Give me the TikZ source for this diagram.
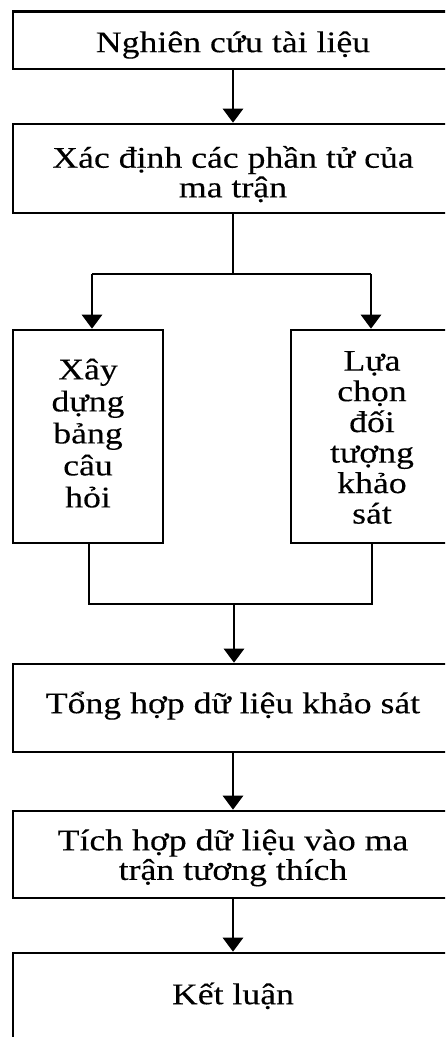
\documentclass[tikz,border=0pt]{standalone}
\usepackage{fontspec}
\setmainfont{Liberation Serif}
\usetikzlibrary{arrows.meta}
% text is set slightly wide and a little heavy, as in the original export
\newcommand\wide[2][31]{\scalebox{1.19}[1]{\fontsize{30}{#1}\selectfont\addfontfeature{FakeBold=0.2}\begin{tabular}{@{}c@{}}#2\end{tabular}}}
\begin{document}
\begin{tikzpicture}[x=1pt,y=-1pt,
  box/.style={draw=black,line width=2.6pt,inner sep=0pt},
  txt/.style={inner sep=0pt,align=center},
  flow/.style={line width=2.8pt,-{Triangle[width=20pt,length=14pt]}},
  link/.style={line width=2pt}]
\useasboundingbox (0,0) rectangle (445,1037);
\clip (0,0) rectangle (445,1037);

% frames of the steps
\node[box,minimum width=440pt,minimum height=57.5pt] (n1) at (233,40.25) {};
\node[box,minimum width=440pt,minimum height=89pt] (n2) at (233,168.5) {};
\node[box,minimum width=150pt,minimum height=213pt] (left) at (88,436.5) {};
\node[box,minimum width=162pt,minimum height=213pt] (right) at (372,436.5) {};
\node[box,minimum width=440pt,minimum height=88pt] (n5) at (233,708) {};
\node[box,minimum width=440pt,minimum height=87pt] (n6) at (233,854.5) {};
\node[box,minimum width=440pt,minimum height=94pt] (n7) at (233,1000) {};

% step texts
\node[txt] (t1) at (233,46) {\wide{Nghiên cứu tài liệu}};
\node[txt] (t2) at (233,176) {\wide[29]{Xác định các phần tử của\\ma trận}};
\node[txt] (tl) at (88,437) {\wide[32]{Xây\\dựng\\bảng\\câu\\hỏi}};
\node[txt] (tr) at (372,441) {\wide[30.5]{Lựa\\chọn\\đối\\tượng\\khảo\\sát}};
\node[txt] (t5) at (233,707) {\wide{Tổng hợp dữ liệu khảo sát}};
\node[txt] (t6) at (233,859) {\wide[29]{Tích hợp dữ liệu vào ma\\trận tương thích}};
\node[txt] (t7) at (233,998) {\wide{Kết luận}};

% split after step 2
\coordinate (split) at (233,274);
\coordinate (sl) at (92,274);
\coordinate (sr) at (371,274);
\draw[flow] (n1) -- (n2);
\draw[link] (n2.south) -- (split);
\draw[link] (sl) -- (sr);
\draw[flow] (sl) -- (sl |- left.north);
\draw[flow] (sr) -- (sr |- right.north);

% join before step 5
\coordinate (jl) at (89,604);
\coordinate (jr) at (372,604);
\coordinate (join) at (234,604);
\draw[link] (left.south -| jl) -- (jl) -- (jr) -- (right.south -| jr);
\draw[flow] (join) -- (join |- n5.north);

\draw[flow] (n5) -- (n6);
\draw[flow] (n6) -- (n7);
\end{tikzpicture}
\end{document}
